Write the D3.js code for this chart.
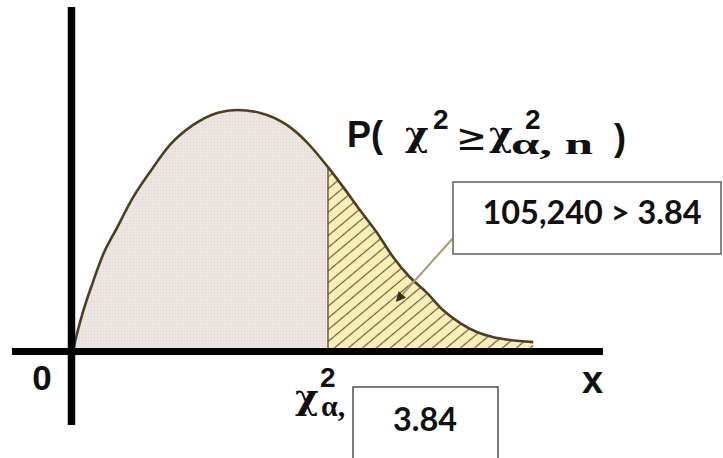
<!DOCTYPE html>
<html>
<head>
<meta charset="utf-8">
<script src="https://cdn.jsdelivr.net/npm/d3@7"></script>
<style>
  html, body { margin: 0; padding: 0; background: #ffffff; }
  svg { display: block; }
</style>
</head>
<body>
<svg id="chart" width="723" height="458"></svg>
<script>
// ---- data ----
const curveX = [0, 0.03, 0.15, 0.30, 0.45, 0.66, 0.90, 1.16, 1.46, 1.81, 2.17, 2.47, 2.82, 3.22, 3.52, 3.84,
                4.07, 4.32, 4.58, 4.82, 5.07, 5.33, 5.57, 5.83, 6.08, 6.32, 6.58, 6.93];
const curveY = [0, 0.037, 0.162, 0.286, 0.398, 0.510, 0.635, 0.743, 0.855, 0.938, 0.988, 1.0, 0.988, 0.938, 0.867, 0.763,
                0.680, 0.585, 0.490, 0.390, 0.307, 0.241, 0.170, 0.116, 0.079, 0.058, 0.046, 0.037];
const criticalValue = 3.84;
const originLabel = "0";
const axisLabel = "x";
const resultText = "105,240 > 3.84";
const criticalText = "3.84";
const arrowTarget = [4.88, 0.21];

// ---- scales ----
const svg = d3.select("#chart");
const x = d3.scaleLinear().domain([0, criticalValue]).range([73, 328]);
const y = d3.scaleLinear().domain([0, 1]).range([351, 110]);

const pts = curveX.map((v, i) => ({ x: v, y: curveY[i] }));
const leftPts = pts.filter(d => d.x <= criticalValue);
const rightPts = pts.filter(d => d.x >= criticalValue);

const defs = svg.append("defs");
const dots = defs.append("pattern").attr("id", "dots").attr("patternUnits", "userSpaceOnUse")
  .attr("width", 3).attr("height", 3);
dots.append("rect").attr("width", 3).attr("height", 3).attr("fill", "#ece5e2");
dots.append("circle").attr("cx", 1.5).attr("cy", 1.5).attr("r", 0.6).attr("fill", "#dcd2ce");

const hatch = defs.append("pattern").attr("id", "hatch").attr("patternUnits", "userSpaceOnUse")
  .attr("width", 9).attr("height", 9).attr("patternTransform", "rotate(-40)");
hatch.append("rect").attr("width", 9).attr("height", 9).attr("fill", "#f8efb9");
hatch.append("line").attr("x1", 0).attr("x2", 9).attr("y1", 4.5).attr("y2", 4.5)
  .attr("stroke", "#6e5f35").attr("stroke-width", 1.2);

const area = d3.area().x(d => x(d.x)).y0(y(0)).y1(d => y(d.y)).curve(d3.curveMonotoneX);
const line = d3.line().x(d => x(d.x)).y(d => y(d.y)).curve(d3.curveMonotoneX);

svg.append("path").datum(leftPts).attr("d", area).attr("fill", "url(#dots)");
svg.append("path").datum(rightPts).attr("d", area).attr("fill", "url(#hatch)");

// critical value boundary
svg.append("line")
  .attr("x1", x(criticalValue)).attr("x2", x(criticalValue))
  .attr("y1", y(curveY[curveX.indexOf(criticalValue)])).attr("y2", y(0))
  .attr("stroke", "#6e5f35").attr("stroke-width", 1.5);

svg.append("path").datum(pts).attr("d", line)
  .attr("fill", "none").attr("stroke", "#4e3f20").attr("stroke-width", 2.6);

// axes
svg.append("line").attr("x1", x(-0.92)).attr("x2", x(7.98)).attr("y1", y(0) + 0.5).attr("y2", y(0) + 0.5)
  .attr("stroke", "#000").attr("stroke-width", 7);
svg.append("line").attr("x1", x(0) - 1.5).attr("x2", x(0) - 1.5).attr("y1", y(1.427)).attr("y2", y(-0.307))
  .attr("stroke", "#000").attr("stroke-width", 7.5);

// axis labels
svg.append("text").text(originLabel).attr("x", 42).attr("y", 390)
  .attr("text-anchor", "middle").attr("font-family", "Liberation Sans").attr("font-weight", "bold")
  .attr("font-size", 35).attr("fill", "#111");
svg.append("text").text(axisLabel).attr("x", 582).attr("y", 393)
  .attr("font-family", "Liberation Sans").attr("font-weight", "bold")
  .attr("font-size", 38).attr("fill", "#111");

// multi-part label in a single <text>, each part positioned by tspan
function label(parts) {
  const e = svg.append("text").attr("fill", "#111");
  parts.forEach(p => {
    const s = e.append("tspan").text(p.s).attr("x", p.x).attr("y", p.y)
      .attr("font-family", p.f).attr("font-size", p.z).attr("font-weight", p.w || "bold");
    if (p.len) s.attr("textLength", p.len).attr("lengthAdjust", "spacingAndGlyphs");
  });
  return e;
}
// title P( χ² ≥ χ²α,n )
label([
  { s: "P(", x: 347, y: 147, f: "Liberation Sans", z: 36 },
  { s: "χ", x: 405, y: 146, f: "DejaVu Serif", z: 36 },
  { s: "2", x: 433, y: 129, f: "Liberation Sans", z: 28 },
  { s: "≥", x: 456, y: 150, f: "DejaVu Sans", z: 37, w: "normal" },
  { s: "χ", x: 489, y: 146, f: "DejaVu Serif", z: 36 },
  { s: "2", x: 525, y: 129, f: "Liberation Sans", z: 28 },
  { s: "α, n", x: 511, y: 154, f: "Liberation Serif", z: 30, len: 82 },
  { s: ")", x: 614, y: 150, f: "Liberation Sans", z: 36 }
]);
// bottom label χ²α,
label([
  { s: "χ", x: 295, y: 409, f: "DejaVu Serif", z: 36 },
  { s: "2", x: 320, y: 387, f: "Liberation Sans", z: 28 },
  { s: "α,", x: 321, y: 416, f: "Liberation Serif", z: 30 }
]);

// pointer
defs.append("marker").attr("id", "arr").attr("viewBox", "0 0 10 10").attr("refX", 8).attr("refY", 5)
  .attr("markerWidth", 5).attr("markerHeight", 5).attr("orient", "auto")
  .append("path").attr("d", "M0,0 L10,5 L0,10 z").attr("fill", "#3b2f18");
svg.append("line").attr("x1", 454).attr("y1", 237)
  .attr("x2", x(arrowTarget[0])).attr("y2", y(arrowTarget[1]))
  .attr("stroke", "#a99b6e").attr("stroke-width", 2).attr("marker-end", "url(#arr)");

// boxes
svg.append("rect").attr("x", 453).attr("y", 182).attr("width", 268).attr("height", 72)
  .attr("fill", "#fff").attr("stroke", "#5e5e5e").attr("stroke-width", 1.5);
svg.append("text").text(resultText).attr("x", 592).attr("y", 224).attr("text-anchor", "middle")
  .attr("font-family", "Lato").attr("font-weight", "bold").attr("font-size", 33).attr("fill", "#111")
  .attr("textLength", 219).attr("lengthAdjust", "spacingAndGlyphs");

svg.append("rect").attr("x", 353).attr("y", 387).attr("width", 145).attr("height", 90)
  .attr("fill", "#fff").attr("stroke", "#333").attr("stroke-width", 1.3);
svg.append("text").text(criticalText).attr("x", 425).attr("y", 431).attr("text-anchor", "middle")
  .attr("font-family", "Lato").attr("font-weight", "bold").attr("font-size", 33).attr("fill", "#111")
  .attr("textLength", 64).attr("lengthAdjust", "spacingAndGlyphs");
</script>
</body>
</html>
